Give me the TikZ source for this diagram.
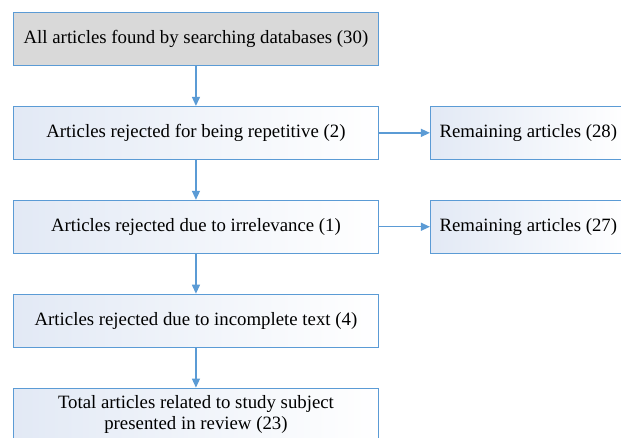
\documentclass[tikz,border=0pt]{standalone}
\usepackage{fontspec}
\setmainfont{Liberation Serif}
\usetikzlibrary{positioning,arrows.meta}
\definecolor{boxblue}{RGB}{91,155,213}
\definecolor{boxgray}{RGB}{217,217,217}
\definecolor{boxtint}{RGB}{226,233,245}
\begin{document}
\begin{tikzpicture}[
        x=1pt, y=1pt,
        node distance=40pt and 51pt,
        basic/.style = {draw=boxblue, line width=0.9pt, minimum height=53pt, inner sep=0pt, align=center, font=\fontsize{18.8}{20.5}\selectfont},
        root/.style = {basic, fill=boxgray, minimum width=365pt},
        stage/.style = {basic, left color=boxtint, right color=white, minimum width=365pt},
        remain/.style = {basic, left color=boxtint, right color=white, minimum width=196pt},
        link/.style = {->, draw=boxblue, line width=1.3pt},
        >={Triangle[length=9pt,width=8pt]}]
    \useasboundingbox (0,0) rectangle (621,-437);
    \clip (0,0) rectangle (621,-437);
    \node[root, anchor=north west] (all) at (13,-12) {All articles found by searching databases (30)};
    \node[stage, below=of all] (repet) {Articles rejected for being repetitive (2)};
    \node[stage, below=of repet] (irrel) {Articles rejected due to irrelevance (1)};
    \node[stage, below=of irrel] (incompl) {Articles rejected due to incomplete text (4)};
    \node[stage, below=of incompl] (total) {Total articles related to study subject\\presented in review (23)};
    \node[remain, right=of repet] (rem28) {Remaining articles (28)};
    \node[remain, right=of irrel] (rem27) {Remaining articles (27)};
    % vertical chain
    \draw[link] (all) -- (repet);
    \draw[link] (repet) -- (irrel);
    \draw[link] (irrel) -- (incompl);
    \draw[link] (incompl) -- (total);
    % side branches
    \draw[link] (repet) -- (rem28);
    \draw[link] (irrel) -- (rem27);
\end{tikzpicture}
\end{document}
